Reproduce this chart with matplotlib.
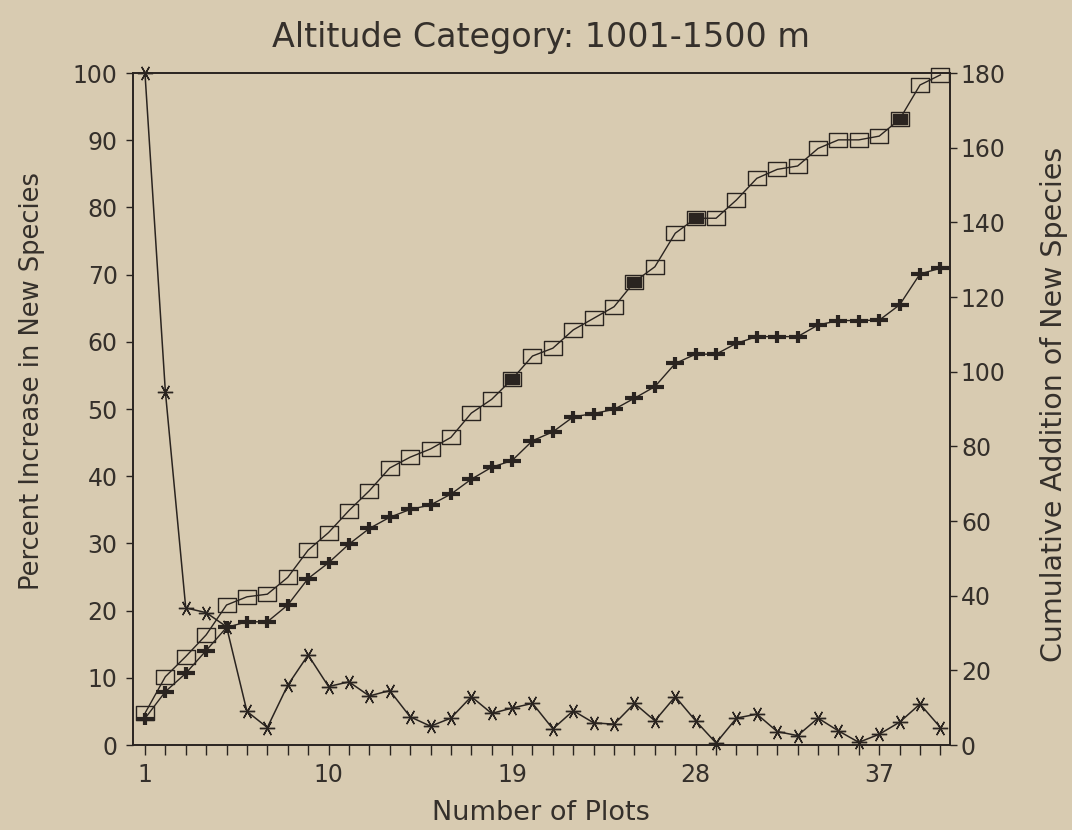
"""
Species accumulation curve, altitude category 1001-1500 m.
Percent increase (left axis) and cumulative additions (right axis).
"""

import matplotlib
matplotlib.use("Agg")
import matplotlib.pyplot as plt
from matplotlib.path import Path
from matplotlib.ticker import FixedLocator, MultipleLocator

# Data
plots = list(range(1, 41))
pct_increase = [100, 52.6, 20.4, 19.7, 17.6, 5.0, 2.6, 8.9, 13.4, 8.7,
                9.4, 7.3, 8.1, 4.2, 2.8, 4.0, 7.2, 4.7, 5.5, 6.2,
                2.4, 5.1, 3.3, 3.1, 6.2, 3.6, 7.2, 3.6, 0.3, 4.0,
                4.6, 2.0, 1.4, 4.0, 2.1, 0.4, 1.6, 3.4, 6.1, 2.6]
cum_squares = [8.5, 18.3, 23.7, 29.5, 37.5, 39.7, 40.4, 44.9, 52.2, 56.9,
               62.8, 68.1, 74.2, 77.1, 79.3, 82.4, 88.9, 92.6, 98.0, 104.2,
               106.3, 111.2, 114.3, 117.4, 124.1, 128.1, 137.1, 141.1, 141.1, 146.0,
               151.8, 154.2, 155.1, 159.8, 162.1, 162.1, 163.1, 167.6, 176.8, 179.5]
cum_plus = [7.1, 14.3, 19.2, 25.3, 31.5, 33.0, 33.0, 37.5, 44.6, 48.8,
            53.8, 58.0, 61.0, 63.1, 64.3, 67.2, 71.2, 74.4, 76.2, 81.5,
            83.9, 87.9, 88.8, 89.9, 92.9, 96.0, 102.2, 104.7, 104.7, 107.6,
            109.4, 109.4, 109.4, 112.5, 113.7, 113.7, 113.8, 117.9, 126.2, 127.7]
x_labels = [1, 10, 19, 28, 37]
left_ticks = list(range(0, 101, 10))
right_ticks = list(range(0, 181, 20))
filled_squares = [19, 25, 28, 38]  # squares printed solid in the original

PAPER = "#d8cbb1"
INK = "#2a2420"
TEXT = "#35302b"

plt.rcParams["font.family"] = ["DejaVu Sans"]

# wide rectangle and wide plus, like the plotter symbols
rect_marker = Path([(-1.3, -1), (1.3, -1), (1.3, 1), (-1.3, 1), (-1.3, -1)],
                   [Path.MOVETO, Path.LINETO, Path.LINETO, Path.LINETO, Path.CLOSEPOLY])
plus_marker = Path([(-1.4, 0), (1.4, 0), (0, -0.95), (0, 0.95)],
                   [Path.MOVETO, Path.LINETO, Path.MOVETO, Path.LINETO])

fig = plt.figure(figsize=(10.72, 8.30), dpi=100, facecolor=PAPER)
ax = fig.add_axes([0.124, 0.1024, 0.762, 0.8096])
ax.set_facecolor(PAPER)
ax2 = ax.twinx()

# percent increase (asterisks)
ax.plot(plots, pct_increase, color=INK, lw=1.1, marker=(6, 2, 90),
        markersize=11, markeredgewidth=1.0, clip_on=False, zorder=3)

# cumulative series on the right axis
ax2.plot(plots, cum_squares, color=INK, lw=1.0, marker=rect_marker, markersize=12.5,
         markerfacecolor="none", markeredgecolor=INK, markeredgewidth=1.0,
         clip_on=False, zorder=3)
ax2.plot(filled_squares, [cum_squares[i - 1] for i in filled_squares], ls="none",
         marker=rect_marker, markersize=10, color=INK, zorder=4)
ax2.plot(plots, cum_plus, color=INK, lw=1.0, marker=plus_marker, markersize=13,
         markerfacecolor="none", markeredgecolor=INK, markeredgewidth=3.0,
         clip_on=False, zorder=3)

ax.set_xlim(0.41, 40.46)
ax.set_ylim(0, 100)
ax2.set_ylim(0, 180)

ax.xaxis.set_major_locator(FixedLocator(x_labels))
ax.xaxis.set_minor_locator(MultipleLocator(1))
ax.set_yticks(left_ticks)
ax2.set_yticks(right_ticks)

for a in (ax, ax2):
    for s in a.spines.values():
        s.set_color(INK)
        s.set_linewidth(1.2)

ax.tick_params(axis="x", which="both", direction="out", length=7, width=1,
               color=INK, labelsize=17, labelcolor=TEXT, pad=6)
ax.tick_params(axis="y", direction="out", length=5, width=1, color=INK,
               labelsize=17, labelcolor=TEXT, pad=6)
ax2.tick_params(axis="y", direction="out", length=5, width=1, color=INK,
                labelsize=17, labelcolor=TEXT, pad=3)

ax.set_xlabel("Number of Plots", fontsize=19.5, color=TEXT, labelpad=9)
ax.set_ylabel("Percent Increase in New Species", fontsize=18.5, color=TEXT)
ax.yaxis.set_label_coords(-0.108, 0.542)
ax2.set_ylabel("Cumulative Addition of New Species", fontsize=20.5, color=TEXT)
ax2.yaxis.set_label_coords(1.110, 0.507)
ax.set_title("Altitude Category: 1001-1500 m", fontsize=24, color=TEXT, pad=19)

fig.savefig("out.png", dpi=100, facecolor=PAPER)
plt.close(fig)
